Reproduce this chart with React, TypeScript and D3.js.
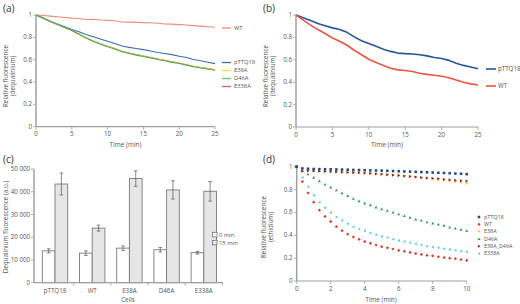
import React from "react";
import * as d3 from "d3";

// ---------- Panel (a) ----------
const timeA = d3.range(0, 26);
const aWT = [1.0, 0.995, 0.99, 0.985, 0.978, 0.972, 0.968, 0.96, 0.962, 0.955, 0.952, 0.948, 0.938, 0.936, 0.934, 0.932, 0.93, 0.926, 0.92, 0.918, 0.914, 0.91, 0.905, 0.9, 0.895, 0.89];
const aPTTQ18 = [1.0, 0.975, 0.945, 0.92, 0.895, 0.87, 0.85, 0.825, 0.805, 0.785, 0.765, 0.745, 0.722, 0.71, 0.7, 0.69, 0.677, 0.665, 0.655, 0.645, 0.63, 0.62, 0.602, 0.59, 0.577, 0.565];
const aE38A = [1.0, 0.972, 0.942, 0.915, 0.888, 0.862, 0.83, 0.797, 0.767, 0.742, 0.72, 0.7, 0.675, 0.66, 0.645, 0.632, 0.62, 0.605, 0.595, 0.58, 0.57, 0.555, 0.54, 0.53, 0.52, 0.51];
const aD46A = [1.0, 0.972, 0.942, 0.915, 0.888, 0.862, 0.827, 0.793, 0.763, 0.738, 0.716, 0.696, 0.671, 0.656, 0.641, 0.628, 0.616, 0.601, 0.591, 0.576, 0.566, 0.551, 0.536, 0.526, 0.516, 0.506];
const aE338A = [1.0, 0.972, 0.942, 0.915, 0.888, 0.862, 0.83, 0.797, 0.767, 0.742, 0.72, 0.7, 0.675, 0.66, 0.645, 0.632, 0.62, 0.605, 0.595, 0.58, 0.57, 0.555, 0.54, 0.53, 0.52, 0.51];

// ---------- Panel (b) ----------
const timeB = d3.range(0, 26);
const bPTTQ18 = [1.0, 0.975, 0.95, 0.925, 0.905, 0.885, 0.87, 0.845, 0.805, 0.77, 0.745, 0.72, 0.695, 0.675, 0.66, 0.655, 0.652, 0.645, 0.635, 0.62, 0.612, 0.595, 0.57, 0.55, 0.535, 0.52];
const bWT = [1.0, 0.955, 0.91, 0.87, 0.835, 0.795, 0.765, 0.73, 0.685, 0.645, 0.605, 0.575, 0.55, 0.525, 0.51, 0.505, 0.495, 0.48, 0.47, 0.462, 0.453, 0.44, 0.42, 0.4, 0.385, 0.375];

// ---------- Panel (c) ----------
const cellsC = ["pTTQ18", "WT", "E38A", "D46A", "E338A"];
const c0min = [14000, 13000, 15200, 14500, 13200];
const c0minErr = [900, 1000, 1000, 1000, 600];
const c15min = [43400, 24000, 45800, 40800, 40200];
const c15minErr = [4800, 1300, 3400, 4000, 4300];
const cTicks = [0, 10000, 20000, 30000, 40000, 50000];
const cTickLabels = ["0", "10 000", "20 000", "30 000", "40 000", "50 000"];

// ---------- Panel (d) ----------
const timeD = d3.range(0, 31).map((i) => i / 3);
const dPTTQ18 = [1.0, 0.985, 0.982, 0.98, 0.979, 0.978, 0.977, 0.976, 0.975, 0.974, 0.972, 0.971, 0.97, 0.968, 0.967, 0.966, 0.964, 0.962, 0.96, 0.958, 0.957, 0.955, 0.953, 0.951, 0.949, 0.947, 0.945, 0.943, 0.94, 0.938, 0.935];
const dWT = [1.0, 0.87, 0.77, 0.69, 0.62, 0.565, 0.52, 0.475, 0.44, 0.41, 0.385, 0.365, 0.345, 0.33, 0.315, 0.3, 0.29, 0.28, 0.268, 0.26, 0.25, 0.24, 0.232, 0.225, 0.22, 0.212, 0.205, 0.2, 0.195, 0.188, 0.18];
const dE38A = [1.0, 0.97, 0.968, 0.966, 0.964, 0.962, 0.96, 0.958, 0.956, 0.954, 0.952, 0.95, 0.947, 0.944, 0.94, 0.936, 0.932, 0.928, 0.923, 0.918, 0.913, 0.908, 0.902, 0.896, 0.89, 0.884, 0.878, 0.872, 0.866, 0.86, 0.852];
const dD46A = [1.0, 0.965, 0.935, 0.905, 0.875, 0.845, 0.82, 0.795, 0.77, 0.745, 0.72, 0.7, 0.68, 0.665, 0.645, 0.63, 0.615, 0.6, 0.585, 0.57, 0.555, 0.54, 0.53, 0.515, 0.505, 0.495, 0.485, 0.47, 0.46, 0.45, 0.44];
const dE38AD46A = [1.0, 0.96, 0.962, 0.962, 0.96, 0.958, 0.956, 0.954, 0.952, 0.95, 0.948, 0.946, 0.943, 0.94, 0.937, 0.934, 0.93, 0.926, 0.922, 0.918, 0.914, 0.91, 0.906, 0.902, 0.898, 0.894, 0.89, 0.886, 0.882, 0.878, 0.874];
const dE338A = [1.0, 0.905, 0.825, 0.75, 0.69, 0.64, 0.6, 0.56, 0.53, 0.5, 0.475, 0.455, 0.44, 0.42, 0.405, 0.39, 0.38, 0.365, 0.355, 0.345, 0.335, 0.325, 0.315, 0.305, 0.298, 0.29, 0.282, 0.275, 0.268, 0.26, 0.255];

const FONT = "'Open Sans', 'DejaVu Sans', sans-serif";
const AXIS = "#a0a0a0";
const TXT = "#555";

type Series = { name: string; values: number[]; color: string };

function YAxis({ y, x0, ticks }: { y: d3.ScaleLinear<number, number>; x0: number; ticks: number[] }) {
  const [r0, r1] = y.range();
  return (
    <g>
      <line x1={x0} x2={x0} y1={r0} y2={r1} stroke={AXIS} strokeWidth={1.5} />
      {ticks.map((t) => (
        <g key={t}>
          <line x1={x0 - 3} x2={x0} y1={y(t)} y2={y(t)} stroke={AXIS} strokeWidth={0.8} />
          <text x={x0 - 4} y={y(t)} dy="0.33em" textAnchor="end" fontSize={6.2} fill={TXT}>{String(t)}</text>
        </g>
      ))}
    </g>
  );
}

function XAxis({ x, y0, ticks }: { x: d3.ScaleLinear<number, number>; y0: number; ticks: number[] }) {
  const [r0, r1] = x.range();
  return (
    <g>
      <line x1={r0} x2={r1} y1={y0} y2={y0} stroke={AXIS} strokeWidth={1.2} />
      {ticks.map((t) => (
        <g key={t}>
          <line x1={x(t)} x2={x(t)} y1={y0} y2={y0 + 3} stroke={AXIS} strokeWidth={0.8} />
          <text x={x(t)} y={y0 + 9.5} textAnchor="middle" fontSize={6.2} fill={TXT}>{String(t)}</text>
        </g>
      ))}
    </g>
  );
}

function LinePanel({ x, y, time, series, sw, yTitle, xTitle, titleX, titleY, xTitleY }: any) {
  const line = d3.line<number>().x((_, i) => x(time[i])).y((v) => y(v));
  return (
    <g>
      <YAxis y={y} x0={x.range()[0]} ticks={[0, 0.2, 0.4, 0.6, 0.8, 1]} />
      <XAxis x={x} y0={y.range()[0]} ticks={[0, 5, 10, 15, 20, 25]} />
      {series.map((s: Series) => (
        <path key={s.name} d={line(s.values) || ""} fill="none" stroke={s.color} strokeWidth={sw} strokeLinejoin="round" />
      ))}
      <text transform={`translate(${titleX},${titleY}) rotate(-90)`} textAnchor="middle" fontSize={6.3} fill={TXT}>
        <tspan x={0} dy={0}>Relative fluorescence</tspan>
        <tspan x={0} dy={7}>{yTitle}</tspan>
      </text>
      <text x={(x.range()[0] + x.range()[1]) / 2} y={xTitleY} textAnchor="middle" fontSize={6.5} fill={TXT}>{xTitle}</text>
    </g>
  );
}

function Marker({ type, color, cx, cy }: { type: string; color: string; cx: number; cy: number }) {
  const s = 1.15;
  if (type === "square") return <rect x={cx - s * 1.1} y={cy - s * 1.1} width={2.2 * s} height={2.2 * s} fill={color} />;
  if (type === "diamond") return <path d={`M${cx},${cy - s * 1.4}L${cx + s * 1.4},${cy}L${cx},${cy + s * 1.4}L${cx - s * 1.4},${cy}Z`} fill={color} />;
  if (type === "down") return <path d={`M${cx - s * 1.3},${cy - s}L${cx + s * 1.3},${cy - s}L${cx},${cy + s * 1.3}Z`} fill={color} />;
  if (type === "up") return <path d={`M${cx - s * 1.3},${cy + s}L${cx + s * 1.3},${cy + s}L${cx},${cy - s * 1.3}Z`} fill={color} />;
  if (type === "right") return <path d={`M${cx - s},${cy - s * 1.3}L${cx - s},${cy + s * 1.3}L${cx + s * 1.3},${cy}Z`} fill={color} />;
  return <path d={`M${cx + s},${cy - s * 1.3}L${cx + s},${cy + s * 1.3}L${cx - s * 1.3},${cy}Z`} fill={color} />;
}

export default function App() {
  // (a)
  const xa = d3.scaleLinear().domain([0, 25]).range([36, 215]);
  const ya = d3.scaleLinear().domain([0, 1]).range([126.7, 15]);
  const seriesA: Series[] = [
    { name: "WT", values: aWT, color: "#ef8b7c" },
    { name: "E338A", values: aE338A, color: "#c8607a" },
    { name: "pTTQ18", values: aPTTQ18, color: "#3a6db4" },
    { name: "E38A", values: aE38A, color: "#e3d03a" },
    { name: "D46A", values: aD46A, color: "#5aa860" },
  ];
  const legendA = [
    { name: "WT", color: "#ef8b7c", y: 28 },
    { name: "pTTQ18", color: "#3a6db4", y: 62.5 },
    { name: "E38A", color: "#f0d84a", y: 70.5 },
    { name: "D46A", color: "#6cc070", y: 78.5 },
    { name: "E338A", color: "#c8607a", y: 86.5 },
  ];

  // (b)
  const xb = d3.scaleLinear().domain([0, 25]).range([296, 478]);
  const yb = d3.scaleLinear().domain([0, 1]).range([127, 15]);
  const seriesB: Series[] = [
    { name: "pTTQ18", values: bPTTQ18, color: "#27559c" },
    { name: "WT", values: bWT, color: "#e8573f" },
  ];
  const legendB = [
    { name: "pTTQ18", color: "#27559c", y: 69 },
    { name: "WT", color: "#e8573f", y: 86 },
  ];

  // (c)
  const xc = d3.scaleBand<string>().domain(cellsC).range([36.4, 222.4]);
  const yc = d3.scaleLinear().domain([0, 50000]).range([282.7, 169]);
  const bw = 12.7;
  const groups = [
    { name: "0 min", values: c0min, errs: c0minErr, fill: "#ffffff", off: -bw },
    { name: "15 min", values: c15min, errs: c15minErr, fill: "#e6e6e6", off: 0 },
  ];

  // (d)
  const xd = d3.scaleLinear().domain([0, 10]).range([296.7, 466.7]);
  const yd = d3.scaleLinear().domain([0, 1]).range([281, 166.7]);
  const seriesD = [
    { name: "E338A", values: dE338A, color: "#5cc6e6", type: "left" },
    { name: "WT", values: dWT, color: "#e03b2c", type: "diamond" },
    { name: "D46A", values: dD46A, color: "#2f9a4c", type: "up" },
    { name: "E38A", values: dE38A, color: "#f4b73c", type: "down" },
    { name: "E38A_D46A", values: dE38AD46A, color: "#8c1c22", type: "right" },
    { name: "pTTQ18", values: dPTTQ18, color: "#1e4a86", type: "square" },
  ];
  const legendD = ["pTTQ18", "WT", "E38A", "D46A", "E38A_D46A", "E338A"];

  return (
    <svg width={520} height={304} style={{ position: "absolute", left: 0, top: 0, background: "#fff" }} fontFamily={FONT}>
      <rect width={520} height={304} fill="#fff" />
      {/* panel labels */}
      <text x={3} y={12} fontSize={10} fill="#333">(a)</text>
      <text x={263} y={12} fontSize={10} fill="#333">(b)</text>
      <text x={3} y={163} fontSize={10} fill="#333">(c)</text>
      <text x={263} y={163} fontSize={10} fill="#333">(d)</text>

      {/* (a) */}
      <LinePanel x={xa} y={ya} time={timeA} series={seriesA} sw={1.1} yTitle="(dequalinium)" xTitle="Time (min)" titleX={8} titleY={76} xTitleY={147} />
      {legendA.map((l) => (
        <g key={l.name}>
          <line x1={222} x2={231} y1={l.y} y2={l.y} stroke={l.color} strokeWidth={1.3} />
          <text x={234} y={l.y} dy="0.33em" fontSize={5.8} fill={TXT}>{l.name}</text>
        </g>
      ))}

      {/* (b) */}
      <LinePanel x={xb} y={yb} time={timeB} series={seriesB} sw={1.6} yTitle="(dequalinium)" xTitle="Time (min)" titleX={268} titleY={76} xTitleY={147} />
      {legendB.map((l) => (
        <g key={l.name}>
          <line x1={486} x2={496} y1={l.y} y2={l.y} stroke={l.color} strokeWidth={1.6} />
          <text x={498} y={l.y} dy="0.33em" fontSize={6.2} fill={TXT}>{l.name}</text>
        </g>
      ))}

      {/* (c) */}
      <g>
        {groups.map((g) =>
          cellsC.map((c, i) => {
            const cx = (xc(c) as number) + xc.bandwidth() / 2 + g.off;
            const top = yc(g.values[i] + g.errs[i]);
            const bot = yc(g.values[i] - g.errs[i]);
            return (
              <g key={g.name + c}>
                <rect x={cx} y={yc(g.values[i])} width={bw} height={yc(0) - yc(g.values[i])} fill={g.fill} stroke="#7a7a7a" strokeWidth={0.9} />
                <line x1={cx + bw / 2} x2={cx + bw / 2} y1={top} y2={bot} stroke="#555" strokeWidth={0.7} />
                <line x1={cx + bw / 2 - 1.8} x2={cx + bw / 2 + 1.8} y1={top} y2={top} stroke="#555" strokeWidth={0.7} />
                <line x1={cx + bw / 2 - 1.8} x2={cx + bw / 2 + 1.8} y1={bot} y2={bot} stroke="#555" strokeWidth={0.7} />
              </g>
            );
          })
        )}
        <line x1={34} x2={34} y1={yc(0)} y2={yc(50000)} stroke={AXIS} strokeWidth={1.5} />
        {cTicks.map((t, i) => (
          <g key={t}>
            <line x1={31} x2={34} y1={yc(t)} y2={yc(t)} stroke={AXIS} strokeWidth={0.8} />
            <text x={30} y={yc(t)} dy="0.33em" textAnchor="end" fontSize={6.2} fill={TXT}>{cTickLabels[i]}</text>
          </g>
        ))}
        <line x1={34} x2={223} y1={yc(0)} y2={yc(0)} stroke={AXIS} strokeWidth={1.2} />
        {cellsC.map((c, i) => (
          <g key={c}>
            {i > 0 && <line x1={xc(c) as number} x2={xc(c) as number} y1={yc(0)} y2={yc(0) + 3} stroke={AXIS} strokeWidth={0.8} />}
            <text x={(xc(c) as number) + xc.bandwidth() / 2} y={yc(0) + 10} textAnchor="middle" fontSize={6.2} fill={TXT}>{c}</text>
          </g>
        ))}
        <line x1={222.4} x2={222.4} y1={yc(0)} y2={yc(0) + 3} stroke={AXIS} strokeWidth={0.8} />
        <text x={128} y={301.5} textAnchor="middle" fontSize={6.3} fill={TXT}>Cells</text>
        <text transform={`translate(8,227) rotate(-90)`} textAnchor="middle" fontSize={6.3} fill={TXT}>Dequalinium fluorescence (a.u.)</text>
        {groups.map((g, i) => (
          <g key={g.name}>
            <rect x={212.5} y={232.3 + i * 8} width={4.6} height={4.6} fill={g.fill} stroke="#666" strokeWidth={0.7} />
            <text x={219} y={234.7 + i * 8} dy="0.33em" fontSize={5.9} fill={TXT}>{g.name}</text>
          </g>
        ))}
      </g>

      {/* (d) */}
      <g>
        <line x1={296.7} x2={296.7} y1={yd(0)} y2={yd(1)} stroke={AXIS} strokeWidth={1.5} />
        {[0, 0.2, 0.4, 0.6, 0.8, 1].map((t) => (
          <g key={t}>
            <line x1={293.7} x2={296.7} y1={yd(t)} y2={yd(t)} stroke={AXIS} strokeWidth={0.8} />
            <text x={292.5} y={yd(t)} dy="0.33em" textAnchor="end" fontSize={6.2} fill={TXT}>{String(t)}</text>
          </g>
        ))}
        <line x1={296.7} x2={466.7} y1={yd(0)} y2={yd(0)} stroke={AXIS} strokeWidth={1.2} />
        {[0, 2, 4, 6, 8, 10].map((t) => (
          <g key={t}>
            <line x1={xd(t)} x2={xd(t)} y1={yd(0)} y2={yd(0) + 3} stroke={AXIS} strokeWidth={0.8} />
            <text x={xd(t)} y={yd(0) + 10} textAnchor="middle" fontSize={6.2} fill={TXT}>{String(t)}</text>
          </g>
        ))}
        {seriesD.map((s) =>
          s.values.map((v, i) => <Marker key={s.name + i} type={s.type} color={s.color} cx={xd(timeD[i])} cy={yd(v)} />)
        )}
        <text x={381} y={301.5} textAnchor="middle" fontSize={6.3} fill={TXT}>Time (min)</text>
        <text transform={`translate(266,227) rotate(-90)`} textAnchor="middle" fontSize={6.3} fill={TXT}>
          <tspan x={0} dy={0}>Relative fluorescence</tspan>
          <tspan x={0} dy={7}>(ethidium)</tspan>
        </text>
        {legendD.map((name, i) => {
          const s = seriesD.find((d) => d.name === name)!;
          const ly = 217 + i * 7.3;
          return (
            <g key={name}>
              <Marker type={s.type} color={s.color} cx={479} cy={ly} />
              <text x={484} y={ly} dy="0.33em" fontSize={5.4} fill={TXT}>{name}</text>
            </g>
          );
        })}
      </g>
    </svg>
  );
}
